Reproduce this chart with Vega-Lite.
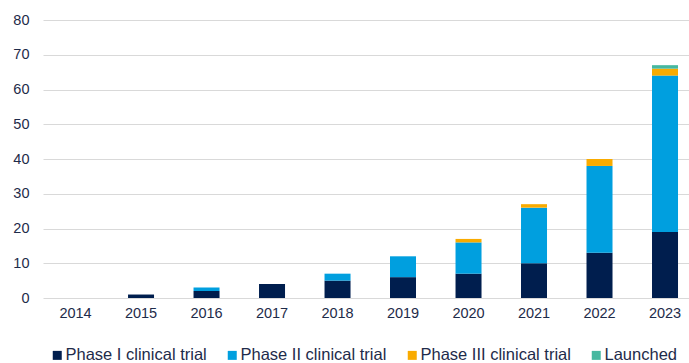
{
  "$schema": "https://vega.github.io/schema/vega-lite/v6.json",
  "autosize": {"type": "none"},
  "padding": {"left": 43, "top": 20, "right": 0, "bottom": 65},
  "width": 646,
  "height": 278,
  "background": "white",
  "config": {
    "view": {"stroke": null},
    "font": "Liberation Sans"
  },
  "data": {
    "values": [
      {"year": "2015", "phase": "Phase I clinical trial", "count": 1},
      {"year": "2016", "phase": "Phase I clinical trial", "count": 2},
      {"year": "2016", "phase": "Phase II clinical trial", "count": 1},
      {"year": "2017", "phase": "Phase I clinical trial", "count": 4},
      {"year": "2018", "phase": "Phase I clinical trial", "count": 5},
      {"year": "2018", "phase": "Phase II clinical trial", "count": 2},
      {"year": "2019", "phase": "Phase I clinical trial", "count": 6},
      {"year": "2019", "phase": "Phase II clinical trial", "count": 6},
      {"year": "2020", "phase": "Phase I clinical trial", "count": 7},
      {"year": "2020", "phase": "Phase II clinical trial", "count": 9},
      {"year": "2020", "phase": "Phase III clinical trial", "count": 1},
      {"year": "2021", "phase": "Phase I clinical trial", "count": 10},
      {"year": "2021", "phase": "Phase II clinical trial", "count": 16},
      {"year": "2021", "phase": "Phase III clinical trial", "count": 1},
      {"year": "2022", "phase": "Phase I clinical trial", "count": 13},
      {"year": "2022", "phase": "Phase II clinical trial", "count": 25},
      {"year": "2022", "phase": "Phase III clinical trial", "count": 2},
      {"year": "2023", "phase": "Phase I clinical trial", "count": 19},
      {"year": "2023", "phase": "Phase II clinical trial", "count": 45},
      {"year": "2023", "phase": "Phase III clinical trial", "count": 2},
      {"year": "2023", "phase": "Launched", "count": 1}
    ]
  },
  "transform": [
    {"calculate": "indexof(['Phase I clinical trial', 'Phase II clinical trial', 'Phase III clinical trial', 'Launched'], datum.phase)", "as": "stage_rank"}
  ],
  "mark": {"type": "bar"},
  "encoding": {
    "x": {
      "field": "year",
      "type": "ordinal",
      "scale": {
        "domain": ["2014", "2015", "2016", "2017", "2018", "2019", "2020", "2021", "2022", "2023"],
        "paddingInner": 0.603,
        "paddingOuter": 0.233,
        "align": 0.64
      },
      "axis": {
        "title": null,
        "labelAngle": 0,
        "domain": false,
        "ticks": false,
        "tickSize": 0,
        "labelPadding": 8,
        "labelFontSize": 14.5,
        "labelColor": "#1e2b4a",
        "labelFont": "Liberation Sans"
      }
    },
    "y": {
      "field": "count",
      "type": "quantitative",
      "stack": "zero",
      "scale": {"domain": [0, 80], "nice": false},
      "axis": {
        "title": null,
        "values": [0, 10, 20, 30, 40, 50, 60, 70, 80],
        "domain": false,
        "ticks": false,
        "tickSize": 0,
        "labelPadding": 14,
        "labelFontSize": 14.5,
        "labelColor": "#1e2b4a",
        "labelFont": "Liberation Sans",
        "grid": true,
        "gridColor": "#d9d9d9",
        "gridWidth": 1.2
      }
    },
    "order": {"field": "stage_rank", "type": "quantitative", "sort": "ascending"},
    "color": {
      "field": "phase",
      "type": "nominal",
      "scale": {
        "domain": ["Phase I clinical trial", "Phase II clinical trial", "Phase III clinical trial", "Launched"],
        "range": ["#001e4e", "#009fdf", "#f9ab00", "#46b8a0"]
      },
      "legend": {
        "title": null,
        "orient": "none",
        "legendX": 6,
        "legendY": 327,
        "direction": "horizontal",
        "symbolType": "square",
        "symbolSize": 81,
        "symbolStrokeWidth": 0,
        "labelFontSize": 16.5,
        "labelFont": "Liberation Sans",
        "labelColor": "#1e2b4a",
        "labelOffset": 0,
        "columnPadding": 17,
        "labelLimit": 400
      }
    }
  }
}
